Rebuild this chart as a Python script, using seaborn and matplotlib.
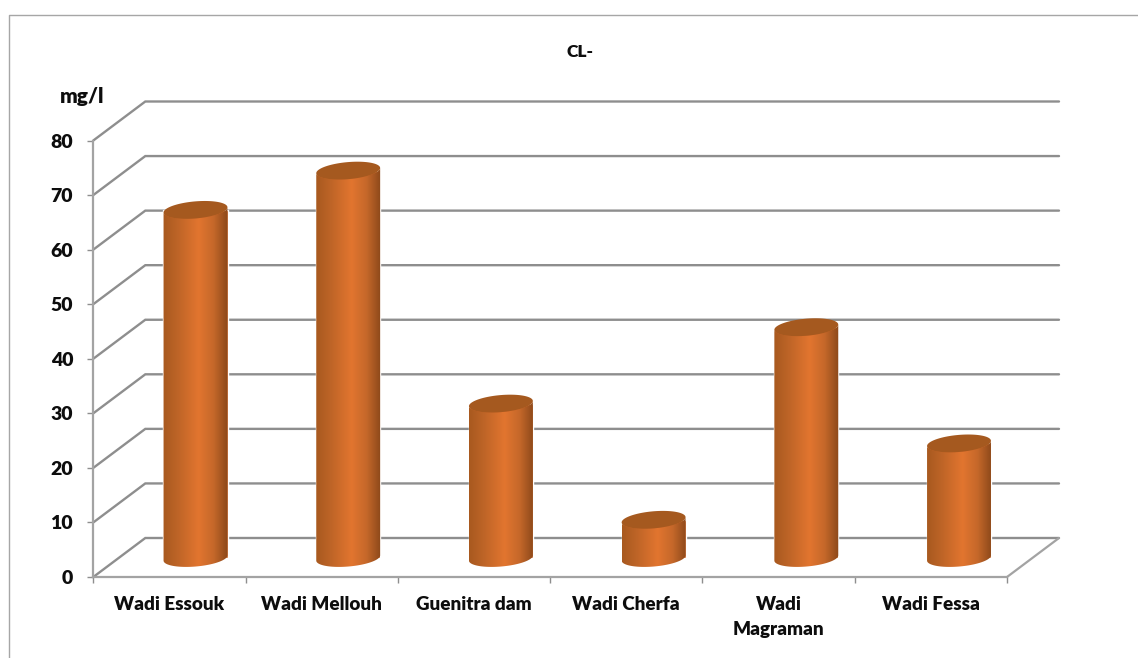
import numpy as np
import pandas as pd
import matplotlib
matplotlib.use("Agg")
import matplotlib.pyplot as plt
from matplotlib.colors import LinearSegmentedColormap
from matplotlib.lines import Line2D
from matplotlib.patches import Polygon
import seaborn as sns

# Chloride concentration per sampling site (mg/l)
sites = ["Wadi Essouk", "Wadi Mellouh", "Guenitra dam", "Wadi Cherfa", "Wadi\nMagraman", "Wadi Fessa"]
chloride = [63.8, 71, 28.3, 7, 42.3, 21]
y_ticks = [0, 10, 20, 30, 40, 50, 60, 70, 80]

W, H = 1138, 658
GRID = "#8e8e8e"
FRAME = "#a6a6a6"
TEXT = "#0d0d0d"
WEIGHT = "heavy"

sns.set_theme(style="white")
plt.rcParams["font.family"] = ["Lato", "DejaVu Sans"]

fig = plt.figure(figsize=(W / 100, H / 100), dpi=100, facecolor="white")


def pixel_axes(left, top, right, bottom):
    return fig.add_axes([left / W, 1 - bottom / H, (right - left) / W, (bottom - top) / H])


# Front plane of the pseudo-3D box
FRONT_L, FRONT_R, FRONT_T, FRONT_B = 93.3, 1007, 140.5, 577
DEPTH_X, DEPTH_Y = 52, 39
ax = pixel_axes(FRONT_L, FRONT_T, FRONT_R, FRONT_B)
ax.set_xlim(-0.5, 5.5)
ax.set_ylim(0, 80)
ax.patch.set_alpha(0)
for name, spine in ax.spines.items():
    spine.set_visible(name in ("left", "bottom"))
    spine.set_color("#a3a3a3")
    spine.set_linewidth(1.6)
ax.set_xticks(np.arange(-0.5, 6.0), minor=True)
ax.set_xticks(range(len(sites)))
ax.set_xticklabels(sites, fontsize=13.6, fontweight=WEIGHT, color=TEXT, linespacing=1.55, va="top")
ax.set_yticks(y_ticks)
ax.set_yticklabels([str(v) for v in y_ticks], fontsize=14, fontweight=WEIGHT, color=TEXT)
ax.tick_params(axis="x", which="major", length=0, pad=14)
ax.tick_params(axis="x", which="minor", length=4.5, width=1, color=GRID, bottom=True)
ax.tick_params(axis="y", length=4.5, width=1, color=GRID, left=True, pad=10)

# Side-wall and back-wall grid lines, offset by the box depth
dx = DEPTH_X / ((FRONT_R - FRONT_L) / 6)
dy = DEPTH_Y / ((FRONT_B - FRONT_T) / 80)
for v in y_ticks:
    ax.plot([-0.5, -0.5 + dx, 5.5 + dx], [v, v + dy, v + dy], color=GRID, lw=1.7,
            clip_on=False, zorder=1, solid_joinstyle="miter")
ax.plot([5.5, 5.5 + dx], [0, dy], color="#a3a3a3", lw=1.6, clip_on=False, zorder=1)

# Cylinders stand on the middle of the floor
spacing = 152.7
centre0 = 195.5
base_y = 558
ax_bars = pixel_axes(centre0 - spacing / 2, base_y - (FRONT_B - FRONT_T), centre0 + 5.5 * spacing,
                     base_y)
ax_bars.patch.set_alpha(0)
ax_bars.set_zorder(ax.get_zorder() + 1)
frame = pd.DataFrame({"site": sites, "chloride": chloride})
sns.barplot(data=frame, x="site", y="chloride", ax=ax_bars, color="#d2692a", width=0.42,
            saturation=1, zorder=2)
ax_bars.set_xlim(-0.5, 5.5)
ax_bars.set_ylim(0, 80)
ax_bars.axis("off")

shade = LinearSegmentedColormap.from_list(
    "cylinder",
    [(0, "#a8591f"), (0.22, "#bd6427"), (0.55, "#e2752f"), (0.78, "#c5682a"), (1, "#8c481a")],
)
px_x = spacing
px_y = (FRONT_B - FRONT_T) / 80
half_h = 8.5
tilt = np.deg2rad(5.0)


def ring(cx, cy, half_w, start, stop, n=50):
    """Tilted ellipse arc, returned in data units of the bar axes."""
    t = np.linspace(start, stop, n)
    a = half_w * px_x
    ex = a * np.cos(t) * np.cos(tilt) - half_h * np.sin(t) * np.sin(tilt)
    ey = a * np.cos(t) * np.sin(tilt) + half_h * np.sin(t) * np.cos(tilt)
    return np.column_stack([cx + ex / px_x, cy + ey / px_y])


for bar in list(ax_bars.patches):
    half_w = bar.get_width() / 2
    cx = bar.get_x() + half_w
    value = bar.get_height()
    # Body: upper edge follows the front of the top ellipse, lower edge the base ellipse
    top_arc = ring(cx, value, half_w, 0, -np.pi)
    low_arc = ring(cx, 0, half_w, -np.pi, 0)
    outline = np.vstack([top_arc, low_arc])
    body = Polygon(outline, closed=True, facecolor="none", edgecolor="none",
                   transform=ax_bars.transData, clip_on=False)
    ax_bars.add_patch(body)
    img = ax_bars.imshow(
        np.linspace(0, 1, 256)[None, :], cmap=shade, aspect="auto", zorder=3,
        extent=[cx - half_w, cx + half_w, -5, value + 5], interpolation="bilinear",
    )
    img.set_clip_path(body)
    img.set_clip_box(fig.bbox)
    lid = ring(cx, value, half_w, 0, 2 * np.pi, 90)
    ax_bars.add_patch(Polygon(lid, closed=True, facecolor="#a5591f", edgecolor="none", zorder=4,
                              transform=ax_bars.transData, clip_on=False))
ax_bars.set_xlim(-0.5, 5.5)
ax_bars.set_ylim(0, 80)

# Titles placed as free text
fig.text(580 / W, 1 - 52 / H, "CL-", ha="center", va="center", fontsize=12.5, fontweight=WEIGHT, color=TEXT)
fig.text(82 / W, 1 - 97 / H, "mg/l", ha="center", va="center", fontsize=15, fontweight=WEIGHT, color=TEXT)

# Chart frame, open at the cropped lower and right sides
fig.add_artist(Line2D([8.5 / W, 8.5 / W, 1], [0, 1 - 14.5 / H, 1 - 14.5 / H],
                      transform=fig.transFigure, color=FRAME, lw=1.0))

fig.savefig("out.png", dpi=100)
